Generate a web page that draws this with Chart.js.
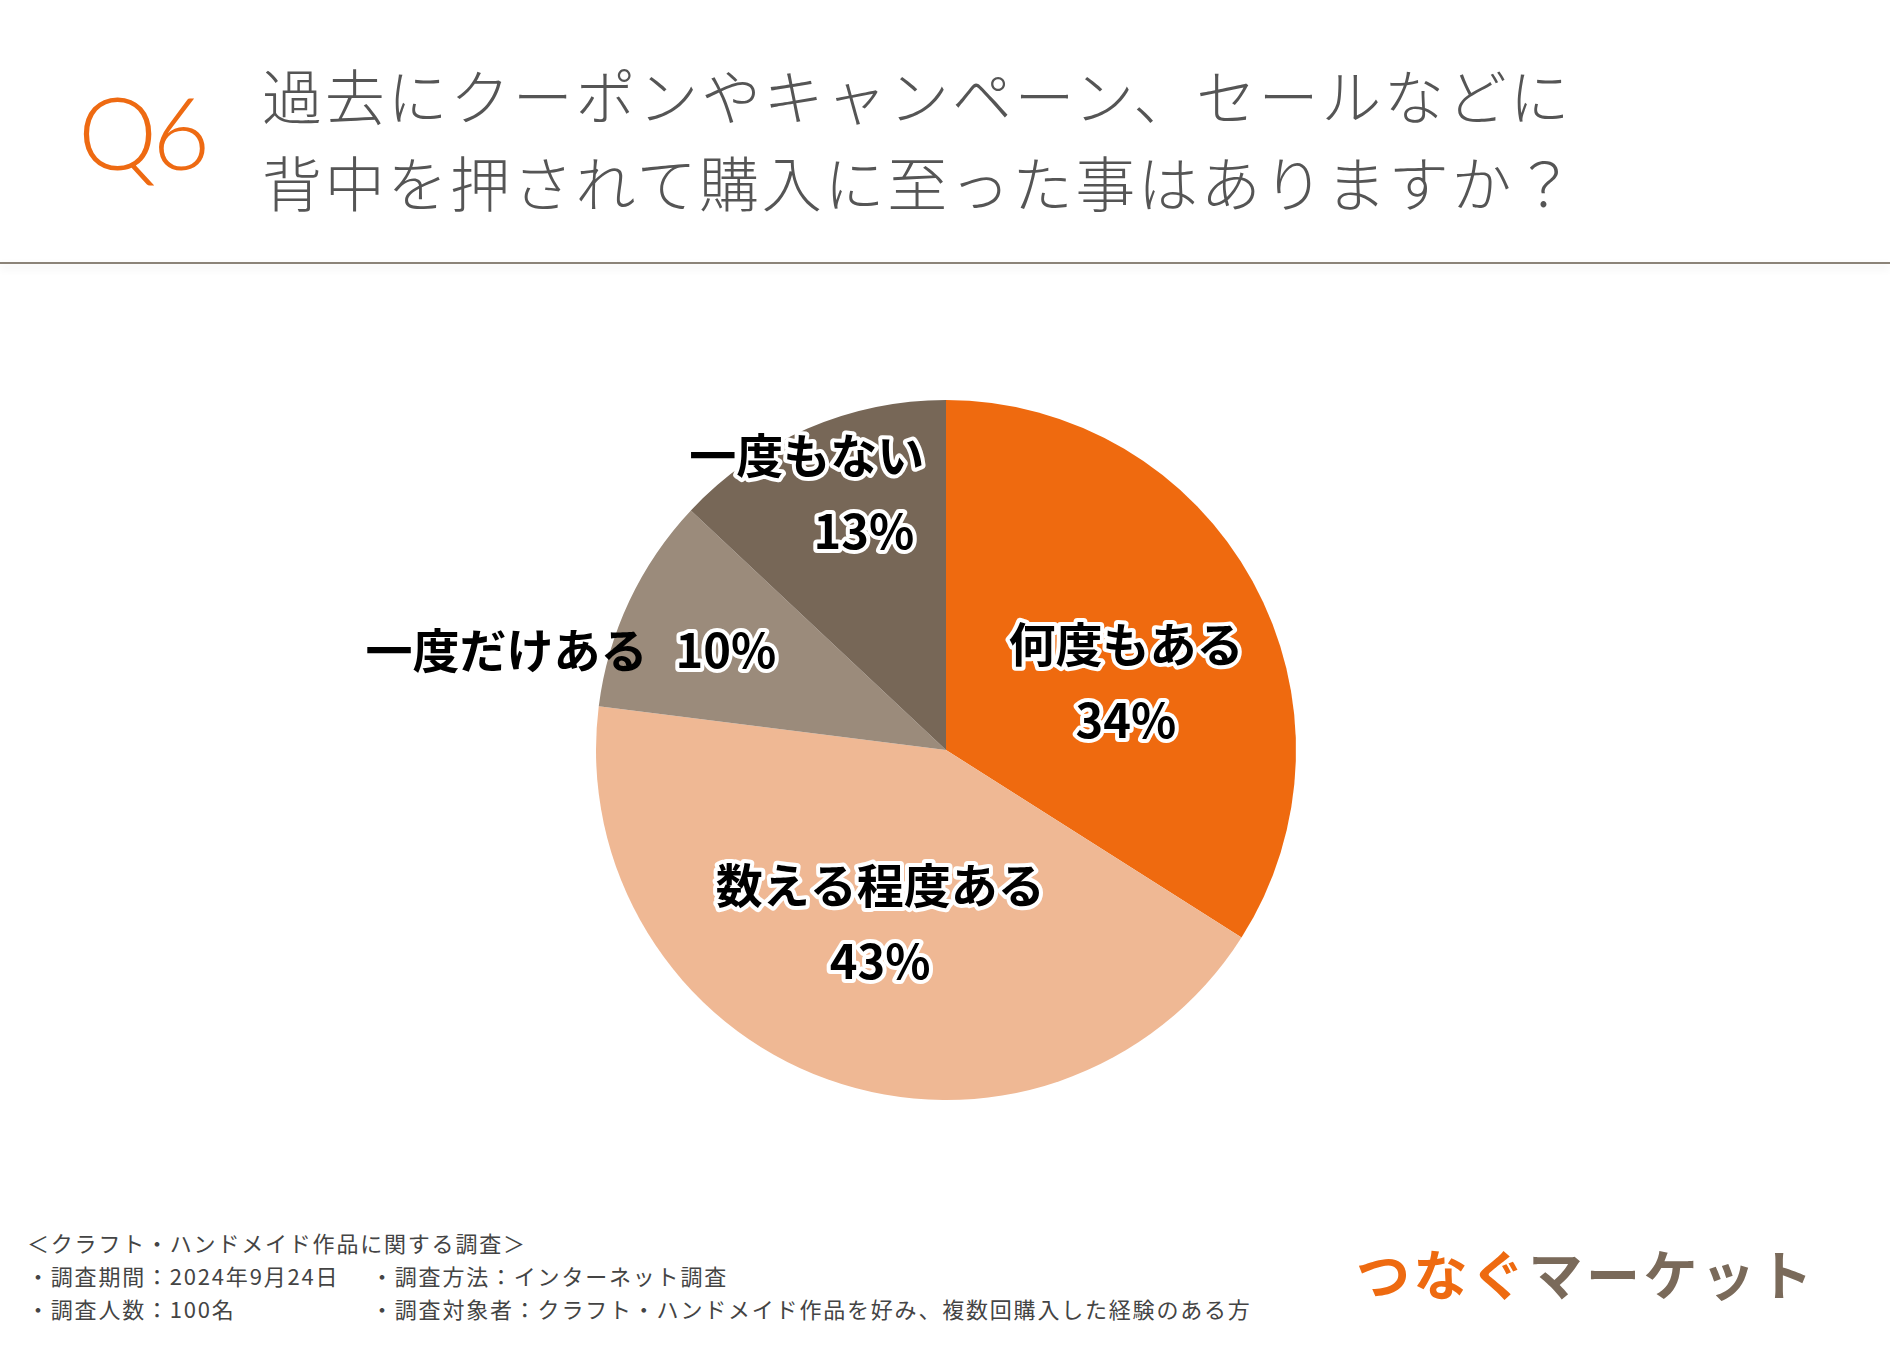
<!DOCTYPE html>
<html lang="ja">
<head>
<meta charset="utf-8">
<script src="https://cdn.jsdelivr.net/npm/chart.js@4"></script>
<style>
  body { margin: 0; width: 1890px; height: 1350px; background: #fff; position: relative; overflow: hidden;
         font-family: "Noto Sans CJK JP", "Noto Sans", sans-serif; }
  #q { position: absolute; left: 78px; top: 76px; font-family: Lato, "Noto Sans", sans-serif; font-weight: 300;
       font-size: 100px; line-height: 110px; color: #ee6a12; letter-spacing: -5px; }
  .title { position: absolute; left: 262px; font-size: 60px; letter-spacing: 2.7px; color: #555; font-weight: 300;
           line-height: 70px; white-space: nowrap; }
  #rule { position: absolute; left: 0; top: 262px; width: 1890px; height: 2px; background: #8b8378;
          box-shadow: 0 4px 8px rgba(0,0,0,0.12); }
  #wrap { position: absolute; left: 0; top: 270px; width: 1890px; height: 900px; }
  .foot { position: absolute; font-size: 22px; color: #444; letter-spacing: 1.8px; white-space: nowrap; line-height: 30px; }
  #logo { position: absolute; left: 1356px; top: 1238px; font-size: 54px; font-weight: 700; letter-spacing: 3.5px;
          line-height: 70px; white-space: nowrap; }
</style>
</head>
<body>
<div id="q">Q6</div>
<div class="title" style="top:59px">過去にクーポンやキャンペーン、セールなどに</div>
<div class="title" style="top:146px">背中を押されて購入に至った事はありますか？</div>
<div id="rule"></div>
<div id="wrap"><canvas id="grafico"></canvas></div>
<div class="foot" style="left:27px;top:1227px">＜クラフト・ハンドメイド作品に関する調査＞</div>
<div class="foot" style="left:27px;top:1260px">・調査期間：2024年9月24日</div>
<div class="foot" style="left:371px;top:1260px">・調査方法：インターネット調査</div>
<div class="foot" style="left:27px;top:1293px">・調査人数：100名</div>
<div class="foot" style="left:371px;top:1293px">・調査対象者：クラフト・ハンドメイド作品を好み、複数回購入した経験のある方</div>
<div id="logo"><span style="color:#ee6a10">つなぐ</span><span style="color:#7a6a5a">マーケット</span></div>
<script>
// datos del grafico
const categorias = ['何度もある', '数える程度ある', '一度だけある', '一度もない'];
const porcentajes = [34, 43, 10, 13];
const colores = ['#ef6a0f', '#efb894', '#9b8b7b', '#776757'];

// donde va cada etiqueta dentro de su porcion
const posEtiquetas = [
  { frac: 0.55, giro: 8,    modo: 'pila',  dxNombre: 0,   dxPct: 0 },
  { frac: 0.53, giro: 1,    modo: 'pila',  dxNombre: 0,   dxPct: 0 },
  { frac: 0.69, giro: -0.9, modo: 'linea', dxNombre: 0,   dxPct: 0 },
  { frac: 0.80, giro: 0,    modo: 'pila',  dxNombre: -28, dxPct: 29 },
];

function textoBorde(ctx, txt, x, y) {
  ctx.strokeText(txt, x, y);
  ctx.fillText(txt, x, y);
}

const etiquetasPlugin = {
  id: 'etiquetas',
  afterDatasetsDraw(chart) {
    const ctx = chart.ctx;
    const meta = chart.getDatasetMeta(0);
    ctx.save();
    ctx.font = 'bold 47px "Noto Sans CJK JP", sans-serif';
    ctx.textBaseline = 'middle';
    ctx.lineJoin = 'round';
    ctx.lineWidth = 8;
    ctx.strokeStyle = '#fff';
    ctx.fillStyle = '#000';
    meta.data.forEach((arc, i) => {
      const p = arc.getProps(['x', 'y', 'startAngle', 'endAngle', 'outerRadius'], true);
      const conf = posEtiquetas[i];
      const ang = (p.startAngle + p.endAngle) / 2 + conf.giro * Math.PI / 180;
      const cx = p.x + Math.cos(ang) * p.outerRadius * conf.frac;
      const cy = p.y + Math.sin(ang) * p.outerRadius * conf.frac;
      const pct = porcentajes[i] + '%';
      if (conf.modo === 'pila') {
        ctx.textAlign = 'center';
        textoBorde(ctx, categorias[i], cx + conf.dxNombre, cy - 38);
        textoBorde(ctx, pct, cx + conf.dxPct, cy + 38);
      } else {
        ctx.textAlign = 'center';
        textoBorde(ctx, pct, cx, cy);
        const w = ctx.measureText(pct).width;
        ctx.textAlign = 'right';
        // el nombre va fuera del pastel, sin borde
        ctx.fillText(categorias[i], cx - w / 2 - 28, cy);
      }
    });
    ctx.restore();
  }
};

new Chart(document.getElementById('grafico'), {
  type: 'pie',
  data: {
    labels: categorias,
    datasets: [{ data: porcentajes, backgroundColor: colores, borderWidth: 0 }]
  },
  options: {
    responsive: true,
    maintainAspectRatio: false,
    animation: false,
    events: [],
    layout: { padding: { top: 130, bottom: 70, left: 596, right: 594 } },
    plugins: { legend: { display: false }, tooltip: { enabled: false } }
  },
  plugins: [etiquetasPlugin]
});
</script>
</body>
</html>
